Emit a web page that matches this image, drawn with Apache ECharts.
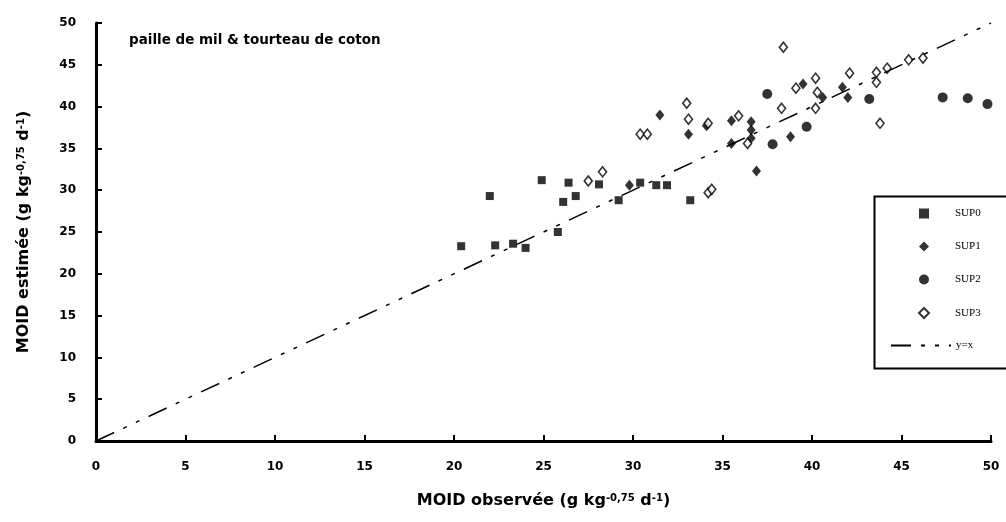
<!DOCTYPE html>
<html>
<head>
<meta charset="utf-8">
<script src="https://cdn.jsdelivr.net/npm/echarts@6/dist/echarts.min.js"></script>
<style>html,body{margin:0;padding:0;background:#fff}#c{width:1006px;height:522px}</style>
</head>
<body>
<div id="c"></div>
<script>
// Data (x = MOID observée, y = MOID estimée)
const sup0 = [[20.4,23.3],[22.0,29.3],[22.3,23.4],[23.3,23.6],[24.0,23.1],[24.9,31.2],[25.8,25.0],[26.1,28.6],[26.4,30.9],[26.8,29.3],[28.1,30.7],[29.2,28.8],[30.4,30.9],[31.3,30.6],[31.9,30.6],[33.2,28.8]];
const sup1 = [[29.8,30.6],[31.5,39.0],[33.1,36.7],[34.1,37.7],[35.5,38.3],[35.5,35.6],[36.6,38.2],[36.6,37.2],[36.6,36.2],[36.9,32.3],[38.8,36.4],[39.5,42.7],[40.6,41.1],[41.7,42.3],[42.0,41.1]];
const sup2 = [[37.5,41.5],[37.8,35.5],[39.7,37.6],[43.2,40.9],[47.3,41.1],[48.7,41.0],[49.8,40.3]];
const sup3 = [[27.5,31.1],[28.3,32.2],[30.4,36.7],[30.8,36.7],[33.0,40.4],[33.1,38.5],[34.2,38.0],[34.2,29.7],[34.4,30.1],[35.9,38.9],[36.4,35.6],[38.4,47.1],[38.3,39.8],[39.1,42.2],[40.2,43.4],[40.3,41.7],[40.2,39.8],[42.1,44.0],[43.6,44.1],[44.2,44.6],[43.6,42.9],[43.8,38.0],[45.4,45.6],[46.2,45.8]];
const identityLine = [[0,0],[50,50]];
const pointSeriesNames = ['SUP0','SUP1','SUP2','SUP3'];
const lineSeriesName = 'y=x';
const axisMin = 0, axisMax = 50, axisStep = 5;
const annotation = 'paille de mil & tourteau de coton';

const FONT = '"DejaVu Sans", "Liberation Sans", sans-serif';
const chart = echarts.init(document.getElementById('c'), null, {renderer:'canvas'});
const axisCommon = {
  type:'value', min:axisMin, max:axisMax, interval:axisStep,
  axisLine:{show:true, onZero:false, lineStyle:{color:'#000', width:3}},
  axisTick:{show:true, inside:true, length:6, lineStyle:{color:'#000', width:2}},
  splitLine:{show:false},
  axisLabel:{color:'#000', fontSize:12, fontWeight:'bold', fontFamily:FONT, margin:20},
  nameLocation:'middle',
  nameTextStyle:{color:'#000', fontSize:16, fontWeight:'bold', fontFamily:FONT,
    rich:{sup:{fontSize:10, fontWeight:'bold', fontFamily:FONT, color:'#000', verticalAlign:'top', lineHeight:10, padding:[0,0,8,0]}}}
};
const blackFill = {color:'#000'};
chart.setOption({
  animation:false,
  backgroundColor:'#fff',
  grid:{left:96, right:15, top:23, bottom:81, containLabel:false},
  xAxis:Object.assign({}, axisCommon, {name:'MOID observée (g kg{sup|-0,75} d{sup|-1})', nameGap:52}),
  yAxis:Object.assign({}, axisCommon, {name:'MOID estimée (g kg{sup|-0,75} d{sup|-1})', nameGap:64}),
  legend:[
    {orient:'vertical', left:913, top:203, itemWidth:10, itemHeight:10, itemGap:22,
     data:pointSeriesNames,
     textStyle:{color:'#000', fontSize:11, fontFamily:'"Liberation Serif", serif', padding:[0,0,0,21]}},
    {orient:'vertical', left:885, top:335, itemWidth:60, itemHeight:10,
     data:[lineSeriesName], itemStyle:{opacity:0},
     textStyle:{color:'#000', fontSize:11, fontFamily:'"Liberation Serif", serif'}}
  ],
  graphic:[
    {type:'rect', left:872, top:194, shape:{width:140, height:172}, style:{fill:'none', stroke:'#000', lineWidth:2}, z:0},
    {type:'text', left:129, top:33, style:{text:annotation, fill:'#000', font:'bold 13.5px ' + FONT}}
  ],
  series:[
    {name:'SUP0', type:'scatter', data:sup0, symbol:'rect', symbolSize:8, itemStyle:blackFill},
    {name:'SUP1', type:'scatter', data:sup1, symbol:'diamond', symbolSize:[9,11], itemStyle:blackFill},
    {name:'SUP2', type:'scatter', data:sup2, symbol:'circle', symbolSize:10, itemStyle:blackFill},
    {name:'SUP3', type:'scatter', data:sup3, symbol:'diamond', symbolSize:[8,10], itemStyle:{color:'#fff', borderColor:'#000', borderWidth:1.6}},
    {name:lineSeriesName, type:'line', data:identityLine, symbol:'none', lineStyle:{color:'#000', width:1.5, type:[20,10,4,10,4,10]}, itemStyle:{color:'#000'}}
  ]
});
</script>
</body>
</html>
